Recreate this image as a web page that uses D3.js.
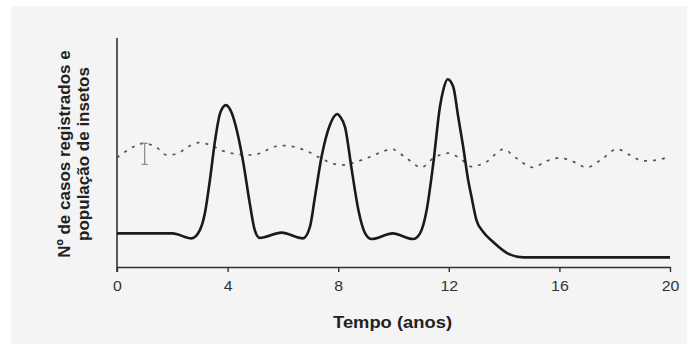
<!DOCTYPE html>
<html>
<head>
<meta charset="utf-8">
<script src="https://cdn.jsdelivr.net/npm/d3@7"></script>
<style>
  body { margin: 0; background: #fff; }
  text { font-family: "Liberation Sans", Arial, sans-serif; fill: #222; }
  .axis-title { font-weight: bold; font-size: 17px; }
  .tick text { font-size: 15px; fill: #333; }
</style>
</head>
<body>
<script>
// data (years, arbitrary units 0-100)
const casesYears = [0, 2.0, 2.7, 3.0, 3.18, 3.36, 3.55, 3.73, 3.94, 4.15, 4.33, 4.57, 4.8, 4.98, 5.16, 5.95, 6.73, 6.98, 7.16, 7.4, 7.7, 7.97, 8.07, 8.25, 8.49, 8.73, 8.97, 9.21, 9.97, 10.71, 10.96, 11.2, 11.44, 11.68, 11.8, 11.96, 12.16, 12.34, 12.52, 12.7, 12.82, 13.0, 13.24, 13.6, 14.2, 14.7, 20];
const casesValues = [14.7, 14.7, 12.5, 16.2, 23.6, 38.0, 55.5, 67.2, 70.7, 67.2, 59.8, 45.4, 27.9, 16.2, 12.7, 15.0, 12.5, 17.6, 30.7, 48.2, 62.0, 66.8, 65.6, 61.0, 42.4, 24.9, 14.8, 12.2, 14.7, 12.2, 14.7, 24.9, 45.3, 70.0, 77.3, 82.0, 78.7, 65.6, 52.5, 38.0, 30.7, 20.5, 15.4, 11.0, 5.5, 4.2, 4.2];

const insectYears = [0, 0.6, 0.95, 1.4, 1.8, 2.15, 2.57, 2.93, 3.36, 3.83, 4.33, 4.93, 5.3, 5.68, 6.03, 6.4, 6.9, 7.37, 7.85, 8.3, 8.55, 9.03, 9.51, 9.93, 10.47, 11.01, 11.44, 11.98, 12.4, 12.82, 13.37, 13.97, 14.45, 15.03, 15.54, 16.02, 16.5, 16.98, 17.58, 18.07, 18.55, 19.03, 19.52, 20];
const insectValues = [47.7, 52.5, 54.0, 52.5, 48.9, 49.3, 52.5, 54.3, 53.3, 50.7, 49.3, 48.9, 50.4, 52.5, 53.0, 52.5, 50.4, 47.5, 45.0, 44.5, 45.5, 47.5, 49.9, 51.5, 47.5, 43.5, 47.5, 49.7, 47.5, 43.8, 46.0, 51.4, 47.5, 43.5, 46.3, 47.7, 46.0, 43.5, 47.5, 51.5, 48.9, 46.3, 46.7, 48.3];

// error bar on the insect series
const errorYear = 1;
const errorRange = [44.8, 54.0];

const xTicks = [0, 4, 8, 12, 16, 20];
const yLabelLines = ["Nº de casos registrados e", "população de insetos"];
const xLabel = "Tempo (anos)";

const W = 690, H = 353;
const svg = d3.select("body").append("svg")
    .attr("width", W)
    .attr("height", H);

svg.append("rect")
    .attr("x", 11).attr("y", 6)
    .attr("width", 676).attr("height", 338)
    .attr("fill", "#f4f4f4");

const x = d3.scaleLinear().domain([0, 20]).range([117, 670]);
const y = d3.scaleLinear().domain([0, 100]).range([267, 38]);

// axes
const xAxis = svg.append("g")
    .attr("transform", `translate(0,${y(0)})`)
    .call(d3.axisBottom(x).tickValues(xTicks).tickSize(5).tickPadding(8).tickSizeOuter(0));
xAxis.select(".domain").attr("stroke", "#333").attr("stroke-width", 1.6);
xAxis.selectAll(".tick line").attr("stroke", "#333").attr("stroke-width", 1.4);
xAxis.selectAll(".tick text").attr("transform", "scale(1.06,1)");

svg.append("line")
    .attr("x1", x(0)).attr("x2", x(0))
    .attr("y1", y(100)).attr("y2", y(0) + 5)
    .attr("stroke", "#333").attr("stroke-width", 1.6);

// series
const line = d3.line().x(d => x(d[0])).y(d => y(d[1])).curve(d3.curveMonotoneX);

svg.append("path")
    .datum(d3.zip(insectYears, insectValues))
    .attr("fill", "none")
    .attr("stroke", "#555")
    .attr("stroke-width", 1.7)
    .attr("stroke-dasharray", "3,6")
    .attr("d", line);

svg.append("path")
    .datum(d3.zip(casesYears, casesValues))
    .attr("fill", "none")
    .attr("stroke", "#1a1a1a")
    .attr("stroke-width", 2.6)
    .attr("stroke-linejoin", "round")
    .attr("d", line);

// error bar
const eb = svg.append("g").attr("stroke", "#888").attr("stroke-width", 1.2);
eb.append("line")
    .attr("x1", x(errorYear)).attr("x2", x(errorYear))
    .attr("y1", y(errorRange[0])).attr("y2", y(errorRange[1]));
errorRange.forEach(v => {
    eb.append("line")
        .attr("x1", x(errorYear) - 3).attr("x2", x(errorYear) + 3)
        .attr("y1", y(v)).attr("y2", y(v));
});

// titles
svg.append("text")
    .attr("class", "axis-title")
    .attr("transform", `translate(${(x(0) + x(20)) / 2 - 1},328) scale(1.08,1)`)
    .attr("text-anchor", "middle")
    .text(xLabel);

const yTitle = svg.append("text")
    .attr("class", "axis-title")
    .attr("transform", "translate(70,154) rotate(-90)")
    .attr("text-anchor", "middle");
yLabelLines.forEach((t, i) => {
    yTitle.append("tspan")
        .attr("x", 0)
        .attr("dy", i === 0 ? 0 : 19)
        .text(t);
});
</script>
</body>
</html>
